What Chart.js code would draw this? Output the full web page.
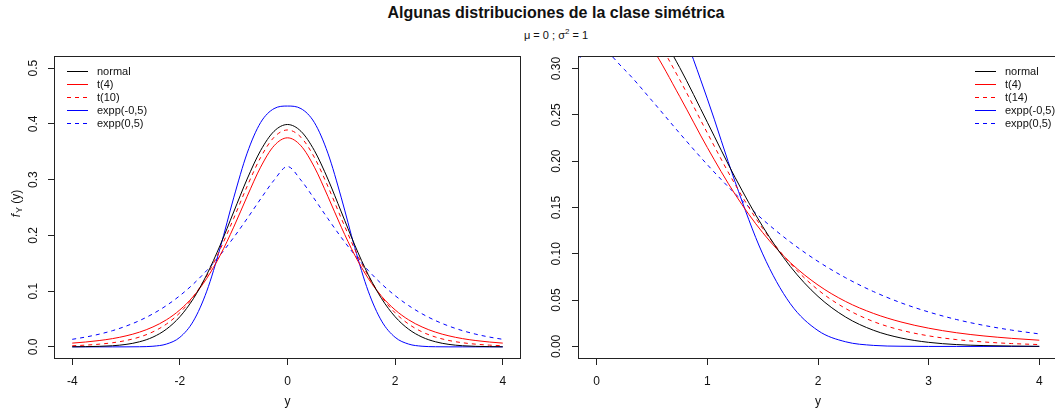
<!DOCTYPE html>
<html>
<head>
<meta charset="utf-8">
<script src="https://cdn.jsdelivr.net/npm/chart.js@4/dist/chart.umd.min.js"></script>
<style>
  html, body { margin: 0; padding: 0; background: #fff; }
  body { width: 1055px; height: 415px; position: relative; overflow: hidden; font-family: "Liberation Sans", Arial, sans-serif; color: #111; }
  #mainTitle { position: absolute; left: 0; width: 1112px; top: 5px; text-align: center; font-weight: bold; font-size: 16px; line-height: 16px; }
  #subTitle { position: absolute; left: 0; width: 1112px; top: 30px; text-align: center; font-size: 11px; line-height: 11px; }
  #subTitle sup { font-size: 8px; vertical-align: 5px; line-height: 0; }
  canvas { position: absolute; top: 0; }
  #leftChart { left: 0; }
  #rightChart { left: 528px; }
</style>
</head>
<body>
<div id="mainTitle">Algunas distribuciones de la clase simétrica</div>
<div id="subTitle">μ = 0 ; σ<sup>2</sup> = 1</div>
<canvas id="leftChart" width="528" height="415"></canvas>
<canvas id="rightChart" width="540" height="415"></canvas>
<script>
// evaluation grid for the densities
const yGrid = [-4, -3.75, -3.5, -3.25, -3, -2.75, -2.5, -2.25, -2, -1.75, -1.5, -1.25, -1, -0.75, -0.5, -0.25,
  0, 0.25, 0.5, 0.75, 1, 1.25, 1.5, 1.75, 2, 2.25, 2.5, 2.75, 3, 3.25, 3.5, 3.75, 4];

const normalDens = [0.0001, 0.0004, 0.0009, 0.0020, 0.0044, 0.0091, 0.0175, 0.0317, 0.0540, 0.0863, 0.1295, 0.1826, 0.2420, 0.3011, 0.3521, 0.3867,
  0.3989, 0.3867, 0.3521, 0.3011, 0.2420, 0.1826, 0.1295, 0.0863, 0.0540, 0.0317, 0.0175, 0.0091, 0.0044, 0.0020, 0.0009, 0.0004, 0.0001];
const t4Dens = [0.0067, 0.0087, 0.0113, 0.0148, 0.0197, 0.0264, 0.0357, 0.0485, 0.0663, 0.0905, 0.1229, 0.1644, 0.2147, 0.2699, 0.3223, 0.3607,
  0.3750, 0.3607, 0.3223, 0.2699, 0.2147, 0.1644, 0.1229, 0.0905, 0.0663, 0.0485, 0.0357, 0.0264, 0.0197, 0.0148, 0.0113, 0.0087, 0.0067];
const t10Dens = [0.0020, 0.0031, 0.0048, 0.0074, 0.0114, 0.0176, 0.0269, 0.0409, 0.0611, 0.0896, 0.1274, 0.1751, 0.2304, 0.2880, 0.3397, 0.3760,
  0.3891, 0.3760, 0.3397, 0.2880, 0.2304, 0.1751, 0.1274, 0.0896, 0.0611, 0.0409, 0.0269, 0.0176, 0.0114, 0.0074, 0.0048, 0.0031, 0.0020];
const exppNegDens = [0, 0, 0, 0, 0, 0.0002, 0.0011, 0.0050, 0.0171, 0.0461, 0.0999, 0.1780, 0.2673, 0.3475, 0.4023, 0.4274,
  0.4320, 0.4274, 0.4023, 0.3475, 0.2673, 0.1780, 0.0999, 0.0461, 0.0171, 0.0050, 0.0011, 0.0002, 0, 0, 0, 0, 0];
const exppPosDens = [0.0135, 0.0176, 0.0227, 0.0291, 0.0372, 0.0471, 0.0593, 0.0741, 0.0918, 0.1127, 0.1371, 0.1650, 0.1962, 0.2301, 0.2653, 0.2990,
  0.3235, 0.2990, 0.2653, 0.2301, 0.1962, 0.1650, 0.1371, 0.1127, 0.0918, 0.0741, 0.0593, 0.0471, 0.0372, 0.0291, 0.0227, 0.0176, 0.0135];

const leftLabels = ["normal", "t(4)", "t(10)", "expp(-0,5)", "expp(0,5)"];
const rightLabels = ["normal", "t(4)", "t(14)", "expp(-0,5)", "expp(0,5)"];

const INK = "#111";
const FONT = "'Liberation Sans', Arial, sans-serif";

function pts(vals) {
  return yGrid.map((x, i) => ({ x: x, y: vals[i] }));
}

function makeDatasets(labels) {
  const styles = [
    { data: normalDens, color: "#000000", dash: [] },
    { data: t4Dens, color: "#ff0000", dash: [] },
    { data: t10Dens, color: "#ff0000", dash: [4, 4] },
    { data: exppNegDens, color: "#0000ff", dash: [] },
    { data: exppPosDens, color: "#0000ff", dash: [4, 4] },
  ];
  return styles.map((s, i) => ({
    label: labels[i],
    data: pts(s.data),
    borderColor: s.color,
    borderDash: s.dash,
    borderWidth: 1,
    pointRadius: 0,
    cubicInterpolationMode: "monotone",
    fill: false,
  }));
}

// box around the plotting region
const frameBox = {
  id: "frameBox",
  afterDatasetsDraw(chart) {
    const { ctx, chartArea: a } = chart;
    ctx.save();
    ctx.strokeStyle = "#222";
    ctx.lineWidth = 1;
    ctx.setLineDash([]);
    ctx.strokeRect(a.left - 0.5, a.top - 0.5, a.right - a.left + 1, a.bottom - a.top + 1);
    ctx.restore();
  },
};

// line key drawn inside the plot (x positions in canvas pixels)
const lineKey = {
  id: "lineKey",
  afterDraw(chart, args, opts) {
    const ctx = chart.ctx;
    ctx.save();
    ctx.font = "11px " + FONT;
    ctx.textBaseline = "middle";
    ctx.textAlign = "left";
    chart.data.datasets.forEach((ds, i) => {
      const y = Math.round(opts.y + i * opts.step) + 0.5;
      ctx.strokeStyle = ds.borderColor;
      ctx.lineWidth = 1;
      ctx.setLineDash(ds.borderDash || []);
      ctx.beginPath();
      ctx.moveTo(opts.x, y);
      ctx.lineTo(opts.x + 21, y);
      ctx.stroke();
      ctx.setLineDash([]);
      ctx.fillStyle = INK;
      ctx.fillText(ds.label, opts.textX, y);
    });
    ctx.restore();
  },
};

// f_Y (y) axis label with subscript
const densLabel = {
  id: "densLabel",
  afterDraw(chart, args, opts) {
    if (!opts.show) return;
    const ctx = chart.ctx;
    const a = chart.chartArea;
    ctx.save();
    ctx.translate(17, (a.top + a.bottom) / 2 - 4);
    ctx.rotate(-Math.PI / 2);
    ctx.fillStyle = INK;
    ctx.textBaseline = "middle";
    ctx.textAlign = "left";
    const fF = "italic 12px " + FONT, sF = "9px " + FONT, nF = "12px " + FONT;
    ctx.font = fF; const w1 = ctx.measureText("f").width + 1;
    ctx.font = sF; const w2 = ctx.measureText("Y").width;
    ctx.font = nF; const w3 = ctx.measureText(" (y)").width;
    let x = -(w1 + w2 + w3) / 2;
    ctx.font = fF; ctx.fillText("f", x, 0); x += w1;
    ctx.font = sF; ctx.fillText("Y", x, 3); x += w2;
    ctx.font = nF; ctx.fillText(" (y)", x, 0);
    ctx.restore();
  },
};

function axisGrid() {
  return {
    drawOnChartArea: false,
    drawTicks: true,
    tickLength: 7,
    color: "#222",
    tickColor: "#222",
    tickWidth: 1,
  };
}

function buildChart(id, cfg) {
  const ctx = document.getElementById(id).getContext("2d");
  return new Chart(ctx, {
    type: "line",
    data: { datasets: makeDatasets(cfg.labels) },
    plugins: [frameBox, lineKey, densLabel],
    options: {
      responsive: false,
      animation: false,
      devicePixelRatio: 1,
      layout: { padding: { top: 57, right: cfg.padRight, left: 0, bottom: 0 } },
      plugins: {
        legend: { display: false },
        tooltip: { enabled: false },
        lineKey: cfg.key,
        densLabel: { show: cfg.densLabel },
      },
      scales: {
        x: {
          type: "linear",
          position: "bottom",
          min: cfg.xMin,
          max: cfg.xMax,
          afterFit: (s) => { s.height = 57; },
          border: { display: false },
          grid: axisGrid(),
          ticks: {
            stepSize: cfg.xStep,
            includeBounds: false,
            autoSkip: false,
            maxRotation: 0,
            padding: 9,
            color: INK,
            font: { family: FONT, size: 12 },
            callback: (v) => String(v),
          },
          title: {
            display: true,
            text: "y",
            color: INK,
            font: { family: FONT, size: 12 },
            padding: { top: 0, bottom: 6 },
          },
        },
        y: {
          type: "linear",
          position: "left",
          min: cfg.yMin,
          max: cfg.yMax,
          afterFit: (s) => { s.width = cfg.yWidth; },
          border: { display: false },
          grid: axisGrid(),
          ticks: {
            stepSize: cfg.yStep,
            includeBounds: false,
            autoSkip: false,
            minRotation: 90,
            maxRotation: 90,
            crossAlign: "center",
            padding: cfg.yPad,
            color: INK,
            font: { family: FONT, size: 12 },
            callback: (v) => v.toFixed(cfg.yDigits),
          },
        },
      },
    },
  });
}

buildChart("leftChart", {
  labels: leftLabels,
  xMin: -4.32, xMax: 4.32, xStep: 2,
  yMin: -0.02, yMax: 0.52, yStep: 0.1, yDigits: 1,
  yWidth: 55, yPad: 6, padRight: 8,
  key: { x: 67, textX: 97, y: 71, step: 13 },
  densLabel: true,
});

buildChart("rightChart", {
  labels: rightLabels,
  xMin: -0.16, xMax: 4.16, xStep: 1,
  yMin: -0.0125, yMax: 0.3125, yStep: 0.05, yDigits: 2,
  yWidth: 51, yPad: 4, padRight: 11,
  key: { x: 447, textX: 477, y: 71, step: 13 },
  densLabel: false,
});
</script>
</body>
</html>
